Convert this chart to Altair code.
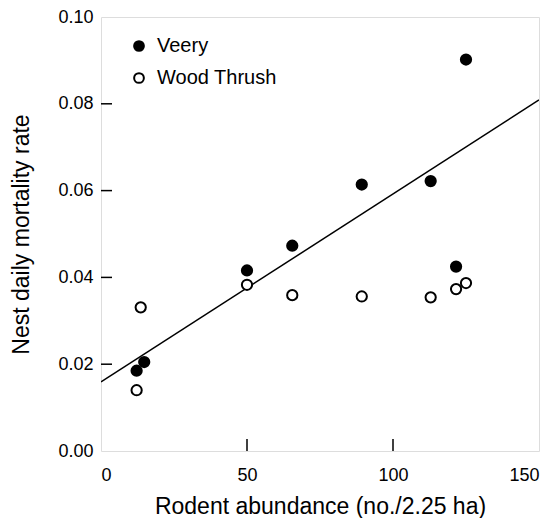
import altair as alt
import pandas as pd

# Data
veery_x = [12.2, 14.8, 50.0, 65.5, 89.3, 112.9, 121.6, 125.0]
veery_y = [0.0185, 0.0205, 0.0416, 0.0473, 0.0614, 0.0622, 0.0425, 0.0902]
thrush_x = [12.2, 13.6, 50.0, 65.5, 89.3, 112.9, 121.6, 125.0]
thrush_y = [0.0140, 0.0331, 0.0383, 0.0359, 0.0356, 0.0354, 0.0373, 0.0387]
species = ["Veery", "Wood Thrush"]
fit_x = [0, 150]
fit_y = [0.0159, 0.0809]
x_tick_values = [0, 50, 100, 150]
y_tick_values = [0.00, 0.02, 0.04, 0.06, 0.08, 0.10]
x_inner_ticks = [50, 100]
y_inner_ticks = [0.02, 0.04, 0.06, 0.08]

FONT = "Liberation Sans"
W, H = 438, 434

pts = pd.DataFrame({
    "x": veery_x + thrush_x,
    "y": veery_y + thrush_y,
    "species": [species[0]] * len(veery_x) + [species[1]] * len(thrush_x),
})
fit = pd.DataFrame({"x": fit_x, "y": fit_y})
xt = pd.DataFrame({"x": x_inner_ticks})
yt = pd.DataFrame({"y": y_inner_ticks})

xscale = alt.Scale(domain=[0, 150], nice=False, zero=False)
yscale = alt.Scale(domain=[0, 0.10], nice=False, zero=False)

xaxis = alt.Axis(
    values=x_tick_values, format="d", title="Rodent abundance (no./2.25 ha)",
    domain=False, grid=False, ticks=False, labelFontSize=18, labelFont=FONT,
    labelColor="black", labelPadding=15, titleFontSize=23, titleFont=FONT,
    titleFontWeight="normal", titleColor="black", titleBaseline="alphabetic",
    titleY=62,
)
yaxis = alt.Axis(
    values=y_tick_values, format=".2f", title="Nest daily mortality rate",
    domain=False, grid=False, ticks=False, labelFontSize=18, labelFont=FONT,
    labelColor="black", labelPadding=8, titleFontSize=23, titleFont=FONT,
    titleFontWeight="normal", titleColor="black", titleBaseline="alphabetic",
    titleX=-73, titleY=H / 2, titleAngle=-90, titleAlign="center",
)

line = alt.Chart(fit).mark_line(color="black", strokeWidth=1.5, clip=True).encode(
    x=alt.X("x:Q", scale=xscale, axis=xaxis),
    y=alt.Y("y:Q", scale=yscale, axis=yaxis),
)

points = alt.Chart(pts).mark_point(shape="circle", filled=True, opacity=1, size=105,
                                   stroke="black", strokeWidth=2).encode(
    x=alt.X("x:Q", scale=xscale),
    y=alt.Y("y:Q", scale=yscale),
    fill=alt.Fill("species:N", scale=alt.Scale(domain=species, range=["black", "white"]),
                  legend=alt.Legend(orient="none", legendX=28, legendY=19, title=None,
                                    labelFontSize=20, labelFont=FONT, labelColor="black",
                                    symbolType="circle", symbolSize=95,
                                    symbolStrokeColor="black", symbolStrokeWidth=2,
                                    rowPadding=12, labelOffset=8, padding=0)),
)

xticks = alt.Chart(xt).mark_rule(color="black", strokeWidth=1.5).encode(
    x=alt.X("x:Q", scale=xscale),
    y=alt.value(H),
    y2=alt.value(H - 12),
)
yticks = alt.Chart(yt).mark_rule(color="black", strokeWidth=1.5).encode(
    y=alt.Y("y:Q", scale=yscale),
    x=alt.value(0),
    x2=alt.value(11),
)

chart = alt.layer(line, xticks, yticks, points).properties(
    width=W, height=H,
    padding={"left": 93, "top": 9, "right": 8, "bottom": 67},
    autosize=alt.AutoSizeParams(type="none"),
).configure_view(stroke="black", strokeWidth=1.5).configure(background="white")

chart.save("out.html", embed_options={"renderer": "svg", "actions": False})
